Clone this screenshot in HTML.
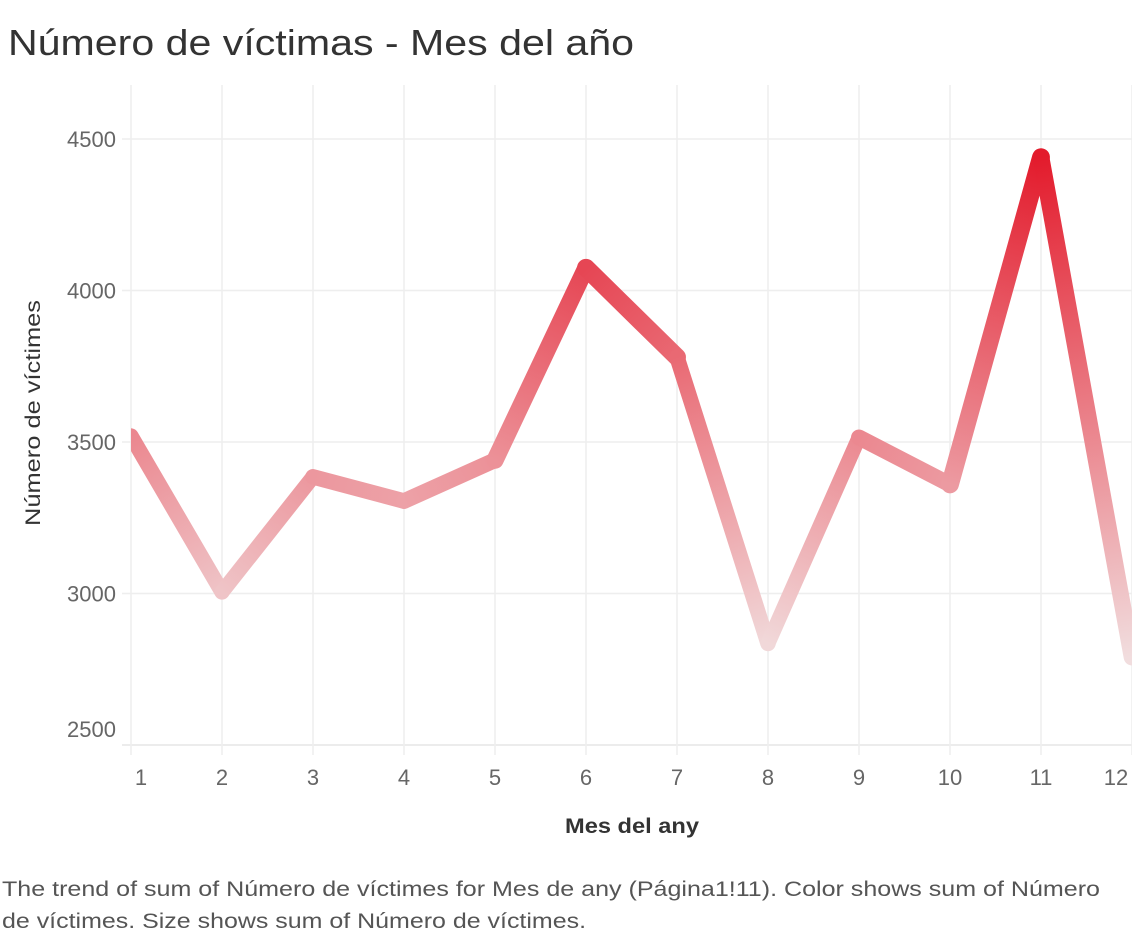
<!DOCTYPE html>
<html><head><meta charset="utf-8"><style>
body{margin:0;background:#fff;width:1132px;height:940px;overflow:hidden;font-family:"Liberation Sans",sans-serif}
</style></head><body>
<svg width="1132" height="940" id="svg">
<text x="8" y="55" font-size="36" fill="#333" textLength="626" lengthAdjust="spacingAndGlyphs">Número de víctimas - Mes del año</text>
<text transform="translate(40,413) rotate(-90)" text-anchor="middle" font-size="21" fill="#333" textLength="226" lengthAdjust="spacingAndGlyphs">Número de víctimes</text>
<text x="632" y="833" text-anchor="middle" font-size="21" font-weight="bold" fill="#333" textLength="134" lengthAdjust="spacingAndGlyphs">Mes del any</text>
<text x="2" y="896" font-size="21" fill="#555" textLength="1098" lengthAdjust="spacingAndGlyphs">The trend of sum of Número de víctimes for Mes de any (Página1!11).  Color shows sum of Número</text>
<text x="2" y="928" font-size="21" fill="#555" textLength="584" lengthAdjust="spacingAndGlyphs">de víctimes.  Size shows sum of Número de víctimes.</text>
<defs id="defs"><clipPath id="plotclip"><rect x="131" y="80" width="1001" height="670"/></clipPath></defs>
<g id="grid"></g><g id="marks" clip-path="url(#plotclip)"></g>
</svg>
<script>
const months=[1,2,3,4,5,6,7,8,9,10,11,12];
const victims=[3520,3005,3385,3305,3440,4075,3780,2835,3515,3360,4440,2790];
const yTicks=[2500,3000,3500,4000,4500];
const NS="http://www.w3.org/2000/svg";
const x=m=>131+(m-1)*91;
const y=v=>745-(v-2500)*151.5/500;
const vmin=2700,vmax=4450;
function col(v){const t=Math.max(0,Math.min(1,(v-vmin)/(vmax-vmin)));
const a=[242,232,232],b=[227,26,43];
return `rgb(${a.map((c,i)=>Math.round(c+(b[i]-c)*t)).join(',')})`;}
const wid=v=>13+7*Math.max(0,Math.min(1,(v-vmin)/(vmax-vmin)));
function mk(tag,at,parent){const e=document.createElementNS(NS,tag);for(const k in at)e.setAttribute(k,at[k]);parent.appendChild(e);return e;}
const grid=document.getElementById('grid'),marks=document.getElementById('marks'),defs=document.getElementById('defs');
yTicks.forEach(t=>{
const l=mk('line',{x1:122,x2:1132,y1:y(t),y2:y(t),stroke:'#eeeeee','stroke-width':1.5},grid);


if(t===2500)l.setAttribute('stroke','#e6e6e6');
const tx=mk('text',{x:116,y:y(t)+(t===2500?-8:8),'text-anchor':'end','font-size':22,fill:'#666'},grid);
tx.textContent=t;


});
months.forEach(m=>{
const l=mk('line',{x1:x(m),x2:x(m),y1:85,y2:755,stroke:'#eeeeee','stroke-width':1.5},grid);


const tx=mk('text',{x:m===1?141:(m===12?1116:x(m)),y:785,'text-anchor':'middle','font-size':22,fill:'#666'},grid);
tx.textContent=m;


});
for(let i=0;i<months.length-1;i++){
const x1=x(months[i]),y1=y(victims[i]),x2=x(months[i+1]),y2=y(victims[i+1]);
const g=mk('linearGradient',{id:'g'+i,gradientUnits:'userSpaceOnUse',x1,y1,x2,y2},defs);
mk('stop',{offset:0,'stop-color':col(victims[i])},g);
mk('stop',{offset:1,'stop-color':col(victims[i+1])},g);
const w=(wid(victims[i])+wid(victims[i+1]))/2;
const l=mk('line',{x1,y1,x2,y2,stroke:`url(#g${i})`,'stroke-width':w,'stroke-linecap':'round'},marks);


}
</script>
</body></html>
